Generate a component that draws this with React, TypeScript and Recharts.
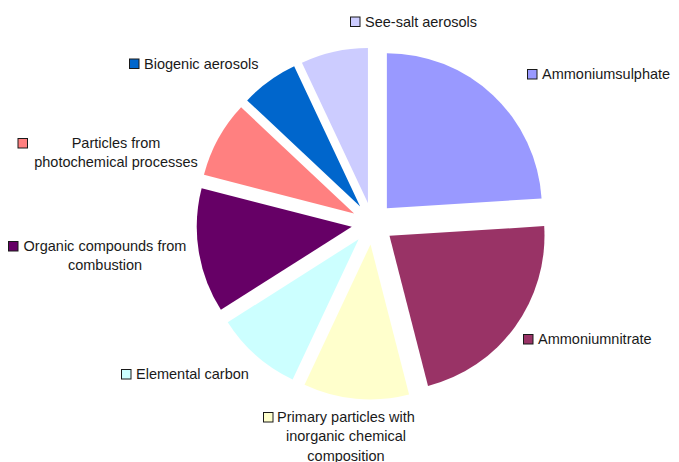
import { PieChart, Pie, Cell } from "recharts";

// slices, clockwise from 12 o'clock
const categories = [
  "Ammoniumsulphate",
  "Ammoniumnitrate",
  "Primary particles with inorganic chemical composition",
  "Elemental carbon",
  "Organic compounds from combustion",
  "Particles from photochemical processes",
  "Biogenic aerosols",
  "See-salt aerosols",
];
const shares = [24, 22, 11, 9, 13, 8, 6, 7];
const colors = [
  "#9999ff",
  "#993366",
  "#ffffcc",
  "#ccffff",
  "#660066",
  "#ff8080",
  "#0066cc",
  "#ccccff",
];

// how each label is broken over lines
const labelLines = [
  ["Ammoniumsulphate"],
  ["Ammoniumnitrate"],
  ["Primary particles with", "inorganic chemical", "composition"],
  ["Elemental carbon"],
  ["Organic compounds from", "combustion"],
  ["Particles from", "photochemical processes"],
  ["Biogenic aerosols"],
  ["See-salt aerosols"],
];

// label placement: x = left of key box, y = middle of first line, mid = centre of multi-line text
const labelPos = [
  { x: 527, y: 74 },
  { x: 523, y: 339 },
  { x: 263, y: 417, mid: 346 },
  { x: 121, y: 374 },
  { x: 8, y: 246, mid: 105 },
  { x: 17.5, y: 143, mid: 116 },
  { x: 129, y: 63.5 },
  { x: 350, y: 21.5 },
];

const W = 679;
const H = 462;
const CX = 372.5;
const CY = 223.5;
const R = 155;
const EXPLODE = 21;
const LINE_H = 19.2;
const FONT = "'Liberation Sans', Arial, sans-serif";

const data = categories.map((name, i) => ({ name, value: shares[i] }));
const total = shares.reduce((s, v) => s + v, 0);

// mid angle of each slice (degrees, recharts convention, start 90 going clockwise)
const midAngles = shares.map((v, i) => {
  const before = shares.slice(0, i).reduce((s, x) => s + x, 0);
  return 90 - (360 * (before + v / 2)) / total;
});

const renderLabel = (props: any) => {
  const i = props.index;
  const pos = labelPos[i];
  const lines = labelLines[i];
  const multi = lines.length > 1;
  return (
    <g key={`lbl-${i}`}>
      <rect
        x={pos.x + 0.5}
        y={pos.y - 4.5}
        width={9.5}
        height={9.5}
        fill={colors[i]}
        stroke="#1a1a1a"
        strokeWidth={1}
      />
      {lines.map((ln, k) => (
        <text
          key={k}
          x={multi ? pos.mid : pos.x + 15}
          y={pos.y + k * LINE_H}
          dy="0.36em"
          textAnchor={multi ? "middle" : "start"}
          fontFamily={FONT}
          fontSize={14.5}
          fill="#1a1a1a"
        >
          {ln}
        </text>
      ))}
    </g>
  );
};

export default function App() {
  return (
    <div
      style={{
        position: "absolute",
        left: 0,
        top: 0,
        width: W,
        height: H,
        background: "#ffffff",
      }}
    >
      <PieChart width={W} height={H} margin={{ top: 0, right: 0, bottom: 0, left: 0 }}>
        {midAngles.map((m, i) => {
          const rad = (m * Math.PI) / 180;
          return (
            <Pie
              key={i}
              data={data}
              dataKey="value"
              nameKey="name"
              cx={CX + EXPLODE * Math.cos(rad)}
              cy={CY - EXPLODE * Math.sin(rad)}
              outerRadius={R}
              startAngle={90}
              endAngle={-270}
              stroke="none"
              label={i === 0 ? renderLabel : false}
              labelLine={false}
              isAnimationActive={false}
            >
              {data.map((d, j) => (
                <Cell key={d.name} fill={j === i ? colors[j] : "transparent"} />
              ))}
            </Pie>
          );
        })}
      </PieChart>
    </div>
  );
}
